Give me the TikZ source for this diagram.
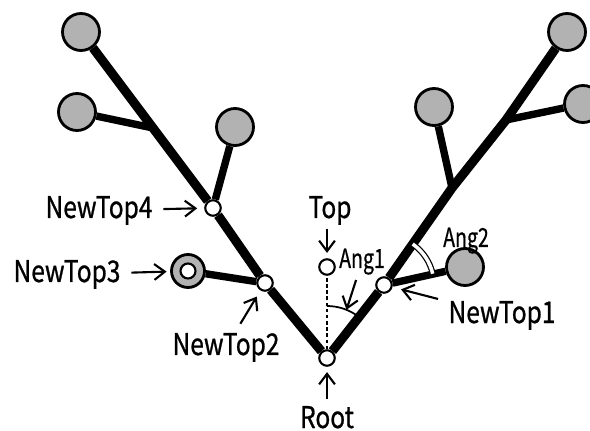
\documentclass[tikz,border=0pt]{standalone}
\usepackage{fontspec}
\setmainfont{Noto Sans CJK JP}[FakeStretch=0.82, FakeBold=0.8]
\newfontfamily\angfont{Noto Sans CJK JP}[FakeStretch=0.74, FakeBold=0.6]
\usetikzlibrary{calc,arrows.meta}
\tikzset{
	leaf/.style={circle, draw, line width=1.6pt, fill=black!30, minimum size=0.74cm, inner sep=0pt},
	newtop/.style={circle, draw, line width=1.2pt, fill=white, minimum size=0.31cm, inner sep=0pt},
	trunk/.style={line width=5.2pt},
	twig/.style={line width=4.2pt},
	lbl/.style={font=\fontsize{17}{20}\selectfont, inner sep=0pt},
	sml/.style={font=\angfont\fontsize{15}{17}\selectfont, inner sep=0pt},
	pointer/.style={-{Straight Barb[length=6pt, width=9pt]}, line width=1.2pt}
}

\begin{document}
\begin{tikzpicture}[x=0.02cm, y=-0.02cm, line join=round]
		%%%%% START %%%%%
		\useasboundingbox (0, 0) rectangle (590, 431);
		
		% junctions and tops
		\node[newtop] (root) at (327, 358) {};
		\node[newtop] (top) at (327, 267) {};
		\node[newtop] (nt1) at (384, 285) {};
		\node[newtop] (nt2) at (265, 283) {};
		\node[leaf, minimum size=0.66cm] (nt3) at (188, 271) {};
		\node[newtop, minimum size=0.3cm] (nt3c) at (nt3) {};
		\node[newtop] (nt4) at (213, 208) {};
		\coordinate (jL) at (153, 128);
		\coordinate (jR1) at (452, 188);
		\coordinate (jR2) at (506, 120);
		
		% leaves
		\node[leaf] (lTL) at (81, 32) {};
		\node[leaf] (lL2) at (77, 112) {};
		\node[leaf] (lL1) at (235, 127) {};
		\node[leaf] (lTR) at (567, 32) {};
		\node[leaf] (lR2) at (583, 104) {};
		\node[leaf] (lR1) at (434, 107) {};
		\node[leaf] (lA2) at (465, 267) {};
		
		% branches
		\draw[trunk] (root) -- (nt2) -- (nt4) -- (jL) -- (lTL);
		\draw[trunk] (root) -- (nt1) -- (jR1) -- (jR2) -- (lTR);
		\draw[twig] (nt2) -- (nt3);
		\draw[twig] (nt4) -- (lL1);
		\draw[twig] (jL) -- (lL2);
		\draw[twig] (nt1) -- (lA2);
		\draw[twig] (jR1) -- (lR1);
		\draw[twig] (jR2) -- (lR2);
		\draw[dashed, dash pattern=on 2pt off 1.5pt, line width=0.8pt] (root) -- (top);
		
		% angles
		\draw[line width=1pt] ($(root.center)+(90:1.04cm)$) arc (90:53:1.04cm);
		\coordinate (a1) at ($(root.center)+(68:1.04cm)$);
		\draw[line width=0.7pt, double, double distance=2pt] ($(nt1.center)+(55:1cm)$) arc (55:13:1cm);
		
		% labels
		\node[lbl, anchor=base] (tRoot) at (327, 428) {Root};
		\node[lbl, anchor=base] (tTop) at (330, 218) {Top};
		\node[lbl, anchor=base] (t1) at (502, 323) {NewTop1};
		\node[lbl, anchor=base] (t2) at (226, 355) {NewTop2};
		\node[lbl, anchor=base] (t3) at (67, 282) {NewTop3};
		\node[lbl, anchor=base] (t4) at (99, 218) {NewTop4};
		\node[sml, anchor=base] (tA1) at (362, 268) {Ang1};
		\node[sml, anchor=base] (tA2) at (466, 247) {Ang2};
		
		% pointers
		\draw[pointer, shorten <=4pt, shorten >=3pt] (tRoot) -- (root);
		\draw[pointer, shorten <=2pt, shorten >=3pt] (tTop.south -| top) -- (top);
		\draw[pointer, shorten <=6pt, shorten >=5pt] (t1) -- (nt1);
		\draw[pointer, shorten <=6pt, shorten >=4pt] (t2) -- (nt2);
		\draw[pointer, shorten <=6pt, shorten >=2pt] (t3) -- (nt3);
		\draw[pointer, shorten <=6pt, shorten >=4pt] (t4) -- (nt4);
		\draw[pointer, shorten <=3pt, shorten >=0pt] (tA1) -- (a1);
		%%%%% END %%%%%
\end{tikzpicture}
\end{document}
